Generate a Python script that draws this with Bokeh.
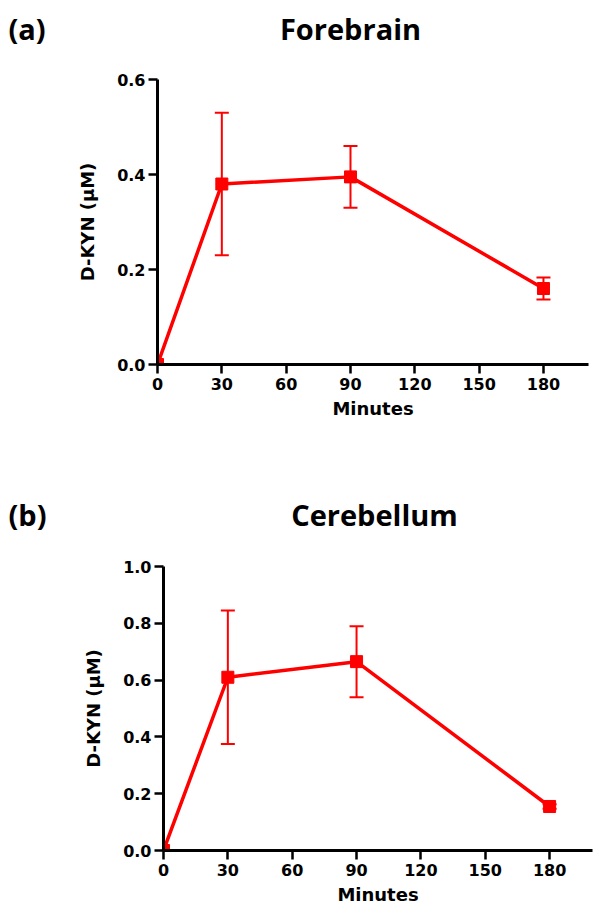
from bokeh.plotting import figure
from bokeh.models import (ColumnDataSource, Whisker, TeeHead, FixedTicker,
                          Range1d, NumeralTickFormatter)
from bokeh.core.properties import value
from bokeh.embed import file_html
from bokeh.resources import INLINE

minutes = [0, 30, 90, 180]
forebrain_mean = [0.0, 0.38, 0.395, 0.16]
forebrain_sem = [0.0, 0.15, 0.065, 0.023]
cerebellum_mean = [0.0, 0.61, 0.665, 0.155]
cerebellum_sem = [0.0, 0.235, 0.125, 0.008]
x_ticks = [0, 30, 60, 90, 120, 150, 180]
fore_y_ticks = [0.0, 0.2, 0.4, 0.6]
cere_y_ticks = [0.0, 0.2, 0.4, 0.6, 0.8, 1.0]
panel_tags = ["(a)", "(b)"]
panel_titles = ["Forebrain", "Cerebellum"]

RED = "#ff0000"
AX_FONT = "DejaVu Sans"
TITLE_FONT = "Open Sans"
W = 602


def make_header(tag, title, height, baseline, title_x):
    h = figure(width=W, height=height, output_backend="svg", toolbar_location=None,
               x_range=Range1d(0, W), y_range=Range1d(0, height),
               x_axis_type=None, y_axis_type=None, min_border=0)
    h.outline_line_color = None
    h.grid.visible = False
    h.text(x=[8], y=[baseline], text=[tag], text_font=value(TITLE_FONT),
           text_font_style="bold", text_font_size="29px", text_align="left",
           text_baseline="middle", text_color="black")
    h.text(x=[title_x], y=[baseline], text=[title], text_font=value(TITLE_FONT),
           text_font_style="bold", text_font_size="29px", text_align="center",
           text_baseline="middle", text_color="black")
    return h


def make_panel(mean, sem, yticks, ymax, xmax, height, borders):
    left, right, top, bottom = borders
    p = figure(width=W, height=height, output_backend="svg", toolbar_location=None,
               x_range=Range1d(0, xmax), y_range=Range1d(0, ymax),
               min_border_left=left, min_border_right=right,
               min_border_top=top, min_border_bottom=bottom)
    p.outline_line_color = None
    p.grid.visible = False

    lower = [m - s for m, s in zip(mean, sem)]
    upper = [m + s for m, s in zip(mean, sem)]
    src = ColumnDataSource(dict(x=minutes, y=mean, lower=lower, upper=upper))

    w = Whisker(base="x", lower="lower", upper="upper", source=src,
                line_color=RED, line_width=2,
                upper_head=TeeHead(size=14, line_color=RED, line_width=2),
                lower_head=TeeHead(size=14, line_color=RED, line_width=2))
    p.add_layout(w)
    p.line("x", "y", source=src, line_color=RED, line_width=3.5)
    p.scatter("x", "y", source=src, marker="square", size=12,
              fill_color=RED, line_color=RED)

    p.xaxis.ticker = FixedTicker(ticks=x_ticks, minor_ticks=[])
    p.yaxis.ticker = FixedTicker(ticks=yticks, minor_ticks=[])
    p.yaxis.formatter = NumeralTickFormatter(format="0.0")
    for ax in (p.xaxis, p.yaxis):
        ax.axis_line_width = 3
        ax.axis_line_color = "black"
        ax.major_tick_line_width = 2.5
        ax.major_tick_line_color = "black"
        ax.major_tick_in = 0
        ax.major_tick_out = 9
        ax.minor_tick_line_color = None
        ax.major_label_text_font = AX_FONT
        ax.major_label_text_font_style = "bold"
        ax.major_label_text_font_size = "16px"
        ax.major_label_text_color = "black"
        ax.axis_label_text_font = AX_FONT
        ax.axis_label_text_font_style = "bold"
        ax.axis_label_text_font_size = "18px"
        ax.axis_label_text_color = "black"
    p.xaxis.axis_label = "Minutes"
    p.yaxis.axis_label = "D-KYN (µM)"
    p.xaxis.major_label_standoff = 4
    p.yaxis.major_label_standoff = 3
    p.xaxis.axis_label_standoff = 5
    p.yaxis.axis_label_standoff = 16
    return p


# header 1: page y 0..62 ; panel 1: 62..490 ; header 2: 490..552 ; panel 2: 552..924
h1 = make_header(panel_tags[0], panel_titles[0], 62, 34, 350)
p1 = make_panel(forebrain_mean, forebrain_sem, fore_y_ticks, 0.6, 201,
                428, (157, 14, 17, 126))
h2 = make_header(panel_tags[1], panel_titles[1], 62, 38, 374)
p2 = make_panel(cerebellum_mean, cerebellum_sem, cere_y_ticks, 1.0, 200,
                372, (163, 10, 14, 74))

open("out.html", "w").write(file_html([h1, p1, h2, p2], INLINE))
